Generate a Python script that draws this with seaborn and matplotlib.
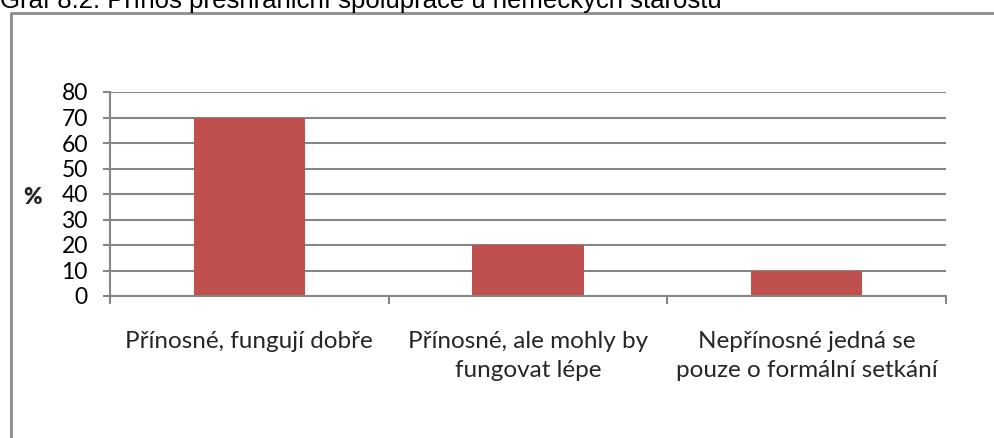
import matplotlib
matplotlib.use("Agg")
import matplotlib.pyplot as plt
import seaborn as sns
import pandas as pd
from matplotlib.lines import Line2D

categories = ["Přínosné, fungují dobře",
              "Přínosné, ale mohly by\nfungovat lépe",
              "Nepřínosné jedná se\npouze o formální setkání"]
values = [70, 20, 10]
yticks = [0, 10, 20, 30, 40, 50, 60, 70, 80]
title = "Graf 8.2: Přínos přeshraniční spolupráce u německých starostů"
ylabel = "%"

sns.set_style("white")
plt.rcParams['font.family'] = ['Lato', 'DejaVu Sans']

W, H = 994, 438
fig = plt.figure(figsize=(W / 100, H / 100), dpi=100)
ax = fig.add_axes([110 / W, 1 - 296 / H, (946 - 110) / W, (296 - 92) / H])

df = pd.DataFrame({"cat": categories, "val": values})
sns.barplot(data=df, x="cat", y="val", color="#C0504D", saturation=1,
            width=0.4, ax=ax, edgecolor="none")

grid_c = "#868686"
ax.set_xlim(-0.5, 2.5)
ax.set_ylim(0, 80)
ax.set_yticks(yticks)
ax.set_yticklabels([str(t) for t in yticks], fontsize=16.5, color="black")
ax.yaxis.grid(True, color=grid_c, linewidth=1.5)
ax.set_axisbelow(True)
for s in ["top", "right"]:
    ax.spines[s].set_visible(False)
for s in ["left", "bottom"]:
    ax.spines[s].set_color(grid_c)
    ax.spines[s].set_linewidth(1.5)
ax.tick_params(axis="y", length=5, width=1.5, color=grid_c, pad=11, left=True)

ax.set_xticks([0, 1, 2])
ax.set_xticklabels(categories, fontsize=17.5, multialignment="center",
                   linespacing=1.5)
ax.tick_params(axis="x", which="major", length=0, pad=25)
ax.set_xticks([-0.5, 0.5, 1.5, 2.5], minor=True)
ax.tick_params(axis="x", which="minor", length=6, width=1.5, color=grid_c, bottom=True)
ax.set_xlabel("")
ax.set_ylabel("")

fig.text(33 / W, 1 - 198 / H, ylabel, fontsize=16, fontweight="heavy",
         ha="center", va="center")

fig.text(0, 1 - 8 / H, title, fontsize=18.5, family="Liberation Sans",
         ha="left", va="baseline", color="black")

bc = "#8C8C8C"
fig.add_artist(Line2D([11 / W, 11 / W], [0, 1 - 13 / H], transform=fig.transFigure,
                      color=bc, linewidth=2))
fig.add_artist(Line2D([11 / W, 1], [1 - 13 / H, 1 - 13 / H], transform=fig.transFigure,
                      color=bc, linewidth=2))

fig.savefig("out.png", dpi=100, facecolor="white")
